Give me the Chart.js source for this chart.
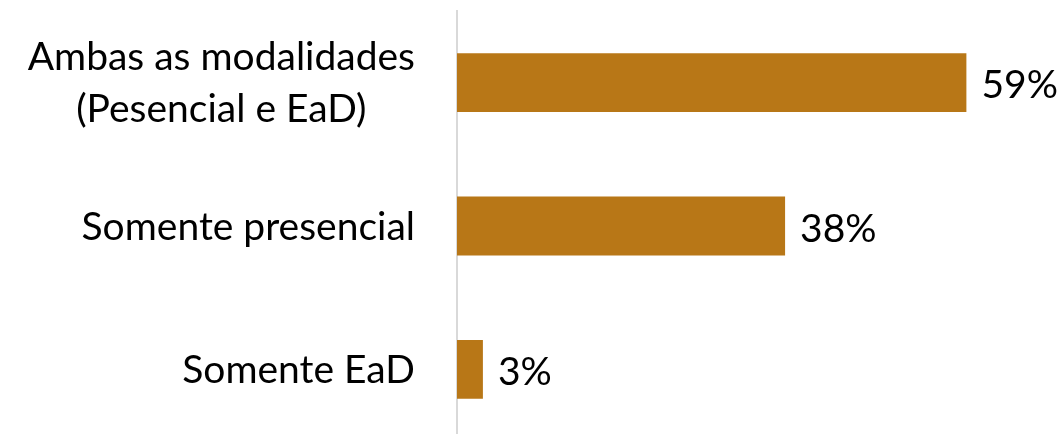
<!DOCTYPE html>
<html>
<head>
<meta charset="utf-8">
<script src="https://cdn.jsdelivr.net/npm/chart.js@4"></script>
<style>
html,body{margin:0;padding:0;background:#fff;overflow:hidden;}
#wrap{position:relative;width:1057px;height:441px;}
</style>
</head>
<body>
<div id="wrap"><canvas id="c"></canvas></div>
<script>
const categories = [["Ambas as modalidades", "(Pesencial e EaD)"], ["Somente presencial"], ["Somente EaD"]];
const values = [59, 38, 3];
const valueLabels = ["59%", "38%", "3%"];

const FONT = "Lato, 'Open Sans', sans-serif";
const FSIZE = 39;

const labelPlugin = {
  id: 'labels',
  afterDatasetsDraw(chart) {
    const ctx = chart.ctx;
    const yScale = chart.scales.y;
    const meta = chart.getDatasetMeta(0);
    ctx.save();
    ctx.font = FSIZE + 'px ' + FONT;
    ctx.fillStyle = '#000';
    ctx.textBaseline = 'alphabetic';
    const capHalf = 13.5;
    const rightEdge = chart.chartArea.left - 42;
    categories.forEach((lines, i) => {
      const cy = yScale.getPixelForValue(i);
      const lh = 51.5;
      const widest = Math.max(...lines.map(l => ctx.measureText(l).width));
      const cx = rightEdge - widest / 2;
      ctx.textAlign = 'center';
      lines.forEach((l, j) => {
        const y = cy + capHalf + (j - (lines.length - 1) / 2) * lh;
        ctx.fillText(l, cx, y);
      });
    });
    meta.data.forEach((bar, i) => {
      ctx.textAlign = 'left';
      ctx.fillText(valueLabels[i], bar.x + 15, bar.y + capHalf + 2);
    });
    ctx.restore();
  }
};

new Chart(document.getElementById('c'), {
  type: 'bar',
  data: {
    labels: categories,
    datasets: [{
      data: values,
      backgroundColor: '#B87717',
      borderWidth: 0,
      categoryPercentage: 1,
      barPercentage: 0.411
    }]
  },
  options: {
    indexAxis: 'y',
    responsive: true,
    maintainAspectRatio: false,
    animation: false,
    layout: { padding: { left: 457, right: 6, top: 11, bottom: 0 } },
    plugins: { legend: { display: false }, tooltip: { enabled: false } },
    scales: {
      x: { display: false, min: 0, max: 68.8 },
      y: {
        display: true,
        ticks: { display: false },
        grid: { display: false, drawTicks: false },
        border: { display: true, color: '#d9d9d9', width: 2 }
      }
    }
  },
  plugins: [labelPlugin]
});
</script>
</body>
</html>
